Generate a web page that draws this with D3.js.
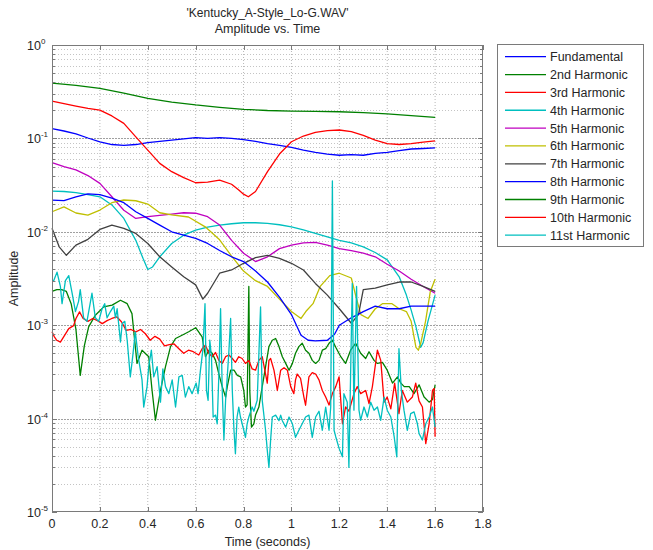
<!DOCTYPE html>
<html>
<head>
<meta charset="utf-8">
<script src="https://cdn.jsdelivr.net/npm/d3@7"></script>
<style>
  body { margin: 0; background: #fff; }
  text { font-family: "Liberation Sans", Arial, sans-serif; fill: #262626; }
</style>
</head>
<body>
<svg id="chart" width="653" height="550"></svg>
<script>
// ---- data: [time (s), amplitude] ----
const timeTicks = [0, 0.2, 0.4, 0.6, 0.8, 1, 1.2, 1.4, 1.6, 1.8];
const decadeExponents = [0, -1, -2, -3, -4, -5];
const seriesNames = ["Fundamental", "2nd Harmonic", "3rd Harmonic", "4th Harmonic", "5th Harmonic",
  "6th Harmonic", "7th Harmonic", "8th Harmonic", "9th Harmonic", "10th Harmonic", "11st Harmonic"];

const fundamental = [[0,0.127],[0.05,0.12],[0.1,0.112],[0.15,0.101],[0.2,0.092],[0.25,0.086],[0.3,0.084],[0.35,0.086],[0.4,0.09],[0.45,0.093],[0.5,0.096],[0.55,0.099],[0.6,0.102],[0.65,0.1],[0.7,0.102],[0.75,0.1],[0.8,0.097],[0.85,0.093],[0.9,0.088],[0.95,0.084],[1.0,0.08],[1.05,0.075],[1.1,0.071],[1.15,0.068],[1.2,0.066],[1.25,0.067],[1.3,0.066],[1.35,0.069],[1.4,0.071],[1.45,0.074],[1.5,0.077],[1.55,0.078],[1.6,0.079]];

const harmonic2 = [[0,0.39],[0.1,0.37],[0.2,0.343],[0.3,0.305],[0.4,0.268],[0.5,0.245],[0.6,0.228],[0.7,0.215],[0.8,0.205],[0.9,0.199],[1.0,0.196],[1.1,0.195],[1.2,0.193],[1.3,0.189],[1.4,0.183],[1.5,0.175],[1.6,0.168]];

const harmonic3 = [[0,0.251],[0.05,0.236],[0.1,0.222],[0.15,0.21],[0.2,0.201],[0.25,0.174],[0.3,0.145],[0.35,0.104],[0.4,0.075],[0.45,0.054],[0.5,0.044],[0.55,0.038],[0.6,0.0335],[0.65,0.034],[0.7,0.0358],[0.75,0.0323],[0.78,0.028],[0.8,0.0253],[0.82,0.0237],[0.85,0.027],[0.9,0.044],[0.95,0.068],[1.0,0.092],[1.05,0.106],[1.1,0.116],[1.15,0.121],[1.2,0.123],[1.25,0.118],[1.3,0.108],[1.35,0.096],[1.4,0.088],[1.45,0.086],[1.5,0.088],[1.55,0.091],[1.6,0.094]];

const harmonic4 = [[0,0.0273],[0.05,0.027],[0.1,0.0263],[0.15,0.025],[0.2,0.0237],[0.25,0.0194],[0.3,0.0139],[0.35,0.0081],[0.38,0.0052],[0.4,0.00395],[0.42,0.0042],[0.45,0.0054],[0.5,0.0075],[0.55,0.0092],[0.6,0.0104],[0.65,0.0112],[0.7,0.0118],[0.75,0.0122],[0.8,0.0125],[0.85,0.0125],[0.9,0.0123],[0.95,0.0119],[1.0,0.0113],[1.05,0.0105],[1.1,0.0096],[1.15,0.0088],[1.2,0.0081],[1.25,0.0076],[1.3,0.0069],[1.35,0.006],[1.4,0.005],[1.45,0.0033],[1.48,0.0021],[1.5,0.00145],[1.52,0.00096],[1.54,0.00058],[1.55,0.00065],[1.57,0.0011],[1.6,0.0021]];

const harmonic5 = [[0,0.055],[0.05,0.05],[0.1,0.046],[0.15,0.04],[0.2,0.033],[0.25,0.0237],[0.3,0.017],[0.35,0.0139],[0.4,0.0145],[0.45,0.015],[0.5,0.0155],[0.55,0.016],[0.6,0.0158],[0.65,0.0145],[0.7,0.0118],[0.75,0.0081],[0.8,0.0059],[0.85,0.0048],[0.9,0.0054],[0.95,0.0066],[1.0,0.0072],[1.05,0.0076],[1.1,0.0077],[1.15,0.0072],[1.2,0.0066],[1.25,0.0063],[1.3,0.0059],[1.35,0.0054],[1.4,0.0045],[1.45,0.0038],[1.5,0.0031],[1.55,0.0026],[1.6,0.0022]];

const harmonic6 = [[0,0.0164],[0.05,0.0185],[0.1,0.0159],[0.15,0.0151],[0.2,0.0171],[0.25,0.0205],[0.3,0.0219],[0.35,0.0215],[0.4,0.0198],[0.45,0.016],[0.5,0.0152],[0.57,0.0144],[0.64,0.0113],[0.7,0.0082],[0.75,0.0055],[0.8,0.0038],[0.85,0.003],[0.9,0.0026],[0.95,0.0019],[1.0,0.0014],[1.04,0.00118],[1.06,0.0014],[1.09,0.0017],[1.12,0.0026],[1.16,0.0034],[1.2,0.0036],[1.25,0.0032],[1.27,0.002],[1.29,0.0013],[1.32,0.00118],[1.35,0.0015],[1.38,0.0017],[1.42,0.0017],[1.45,0.0015],[1.48,0.0014],[1.5,0.0011],[1.52,0.00058],[1.53,0.00054],[1.54,0.00064],[1.56,0.0011],[1.58,0.0023],[1.6,0.0031]];

const harmonic7 = [[0,0.0109],[0.03,0.0069],[0.06,0.0056],[0.1,0.0072],[0.15,0.0083],[0.2,0.0106],[0.25,0.0118],[0.3,0.0109],[0.35,0.0096],[0.4,0.0075],[0.45,0.0054],[0.5,0.0042],[0.55,0.0033],[0.6,0.0027],[0.63,0.0019],[0.65,0.0022],[0.7,0.0036],[0.75,0.0039],[0.8,0.0046],[0.85,0.0053],[0.9,0.0056],[0.95,0.0052],[1.0,0.0046],[1.05,0.0039],[1.1,0.0028],[1.15,0.0021],[1.2,0.0015],[1.25,0.00105],[1.28,0.0013],[1.3,0.0024],[1.35,0.0025],[1.4,0.0027],[1.45,0.0029],[1.5,0.0029],[1.55,0.0026],[1.6,0.0023]];

const harmonic8 = [[0,0.0218],[0.05,0.0216],[0.1,0.0237],[0.15,0.0255],[0.2,0.025],[0.25,0.0229],[0.3,0.0205],[0.35,0.0164],[0.4,0.0139],[0.45,0.0118],[0.5,0.01],[0.55,0.0092],[0.6,0.0085],[0.65,0.0075],[0.7,0.0063],[0.75,0.0054],[0.8,0.0048],[0.85,0.0038],[0.9,0.0029],[0.95,0.002],[1.0,0.0013],[1.04,0.00078],[1.07,0.00069],[1.1,0.00068],[1.15,0.00069],[1.18,0.0008],[1.2,0.001],[1.25,0.0012],[1.3,0.0014],[1.35,0.0016],[1.4,0.0015],[1.45,0.0015],[1.5,0.0016],[1.55,0.0016],[1.6,0.0016]];

const harmonic9 = [[0,0.0023],[0.02,0.0024],[0.04,0.0024],[0.06,0.0023],[0.08,0.0017],[0.1,0.0009],[0.118,0.00029],[0.135,0.0006],[0.153,0.00096],[0.181,0.00128],[0.216,0.00157],[0.251,0.00164],[0.286,0.00185],[0.314,0.0017],[0.334,0.00133],[0.355,0.00039],[0.376,0.00054],[0.404,0.00046],[0.418,0.0002],[0.432,0.000096],[0.453,0.0002],[0.474,0.00036],[0.495,0.00059],[0.516,0.00072],[0.543,0.00078],[0.571,0.00085],[0.6,0.00094],[0.627,0.00075],[0.641,0.00046],[0.655,0.00054],[0.669,0.0005],[0.683,0.00042],[0.697,0.0003],[0.711,0.00022],[0.725,0.00017],[0.732,0.00022],[0.746,0.00033],[0.76,0.00033],[0.774,0.00029],[0.788,0.00028],[0.801,0.0002],[0.808,0.000133],[0.815,0.00014],[0.822,0.0026],[0.826,0.0002],[0.833,0.000081],[0.843,0.000088],[0.85,0.000109],[0.864,0.000133],[0.878,0.00022],[0.892,0.00036],[0.906,0.00059],[0.92,0.00069],[0.934,0.00072],[0.948,0.00059],[0.962,0.00046],[0.976,0.00039],[0.99,0.00033],[1.004,0.00039],[1.017,0.0005],[1.031,0.00059],[1.045,0.00064],[1.059,0.00054],[1.073,0.0005],[1.087,0.00042],[1.101,0.00039],[1.115,0.00042],[1.129,0.00054],[1.143,0.00056],[1.157,0.00064],[1.171,0.00069],[1.185,0.00058],[1.206,0.00046],[1.226,0.00039],[1.247,0.00054],[1.268,0.00064],[1.289,0.0005],[1.31,0.00044],[1.324,0.00052],[1.345,0.00042],[1.359,0.00039],[1.38,0.0004],[1.4,0.00033],[1.422,0.00024],[1.443,0.00028],[1.457,0.00024],[1.471,0.00022],[1.492,0.00022],[1.512,0.000185],[1.533,0.00023],[1.554,0.00017],[1.575,0.00015],[1.589,0.00016],[1.6,0.00023]];

const harmonic10 = [[0,0.00085],[0.01,0.00075],[0.02,0.00069],[0.035,0.00066],[0.05,0.00076],[0.07,0.00092],[0.09,0.00099],[0.1,0.00118],[0.115,0.00139],[0.13,0.00118],[0.15,0.0011],[0.17,0.00118],[0.19,0.00112],[0.21,0.00104],[0.23,0.00112],[0.25,0.00118],[0.27,0.00123],[0.29,0.00109],[0.31,0.00088],[0.33,0.0009],[0.35,0.00085],[0.37,0.0009],[0.39,0.00081],[0.41,0.00069],[0.43,0.00076],[0.45,0.00071],[0.47,0.0006],[0.49,0.00062],[0.51,0.00063],[0.53,0.00056],[0.55,0.0005],[0.57,0.00054],[0.59,0.00052],[0.613,0.00048],[0.627,0.00056],[0.641,0.00061],[0.655,0.0005],[0.669,0.00046],[0.683,0.00051],[0.697,0.00042],[0.711,0.00039],[0.725,0.00046],[0.739,0.00048],[0.753,0.00044],[0.766,0.0004],[0.78,0.00046],[0.794,0.00044],[0.808,0.00039],[0.822,0.00042],[0.836,0.00034],[0.85,0.00033],[0.864,0.00042],[0.878,0.00046],[0.892,0.0003],[0.899,0.00024],[0.906,0.00042],[0.913,0.00044],[0.927,0.00033],[0.934,0.00026],[0.941,0.0002],[0.955,0.00033],[0.969,0.00035],[0.983,0.00033],[0.997,0.00022],[1.01,0.000185],[1.017,0.00026],[1.024,0.0003],[1.038,0.00027],[1.052,0.00017],[1.059,0.000139],[1.073,0.00028],[1.087,0.00031],[1.101,0.0003],[1.115,0.00026],[1.129,0.0002],[1.143,0.00017],[1.157,0.00014],[1.171,0.000185],[1.185,0.00022],[1.199,0.00028],[1.213,0.000088],[1.226,0.000133],[1.24,0.00012],[1.261,0.000185],[1.275,0.00022],[1.289,0.000185],[1.31,0.0002],[1.324,0.000145],[1.338,0.00022],[1.359,0.00054],[1.373,0.00042],[1.387,0.00015],[1.4,0.00017],[1.415,0.000127],[1.431,0.00024],[1.449,0.000113],[1.463,0.0002],[1.484,0.00015],[1.505,0.00017],[1.519,0.00024],[1.533,0.000155],[1.547,0.000133],[1.561,0.000054],[1.575,0.000088],[1.589,0.0002],[1.596,0.00021],[1.6,0.000064]];

const harmonic11 = [[0,0.003],[0.007,0.003],[0.021,0.0037],[0.035,0.0026],[0.042,0.0017],[0.056,0.003],[0.07,0.0034],[0.084,0.0022],[0.098,0.0014],[0.111,0.0018],[0.118,0.0024],[0.132,0.0012],[0.146,0.0011],[0.167,0.0022],[0.181,0.0012],[0.195,0.0011],[0.209,0.0015],[0.22,0.0017],[0.23,0.0012],[0.244,0.0014],[0.258,0.0016],[0.265,0.0012],[0.272,0.0015],[0.286,0.00066],[0.293,0.00104],[0.304,0.0011],[0.314,0.00069],[0.327,0.00028],[0.337,0.00046],[0.348,0.00085],[0.36,0.00046],[0.376,0.00026],[0.383,0.000133],[0.397,0.00022],[0.404,0.00036],[0.415,0.00054],[0.425,0.00028],[0.439,0.00036],[0.453,0.00015],[0.463,0.00034],[0.474,0.00022],[0.488,0.000185],[0.502,0.00026],[0.516,0.000133],[0.53,0.00028],[0.544,0.00029],[0.557,0.00017],[0.571,0.00022],[0.585,0.000185],[0.602,0.00024],[0.61,0.000185],[0.62,0.00033],[0.63,0.00054],[0.639,0.0017],[0.645,0.0002],[0.652,0.000157],[0.659,0.00069],[0.666,0.00046],[0.673,0.000104],[0.683,0.000109],[0.69,0.000088],[0.697,0.0003],[0.704,0.0015],[0.711,0.0002],[0.718,0.000059],[0.725,0.000157],[0.732,0.00028],[0.739,0.00054],[0.746,0.00118],[0.753,0.0002],[0.76,0.000075],[0.766,0.000042],[0.773,0.000104],[0.78,0.000133],[0.787,0.000104],[0.801,0.000075],[0.808,0.000063],[0.815,0.000088],[0.822,0.000104],[0.836,0.000133],[0.843,0.00012],[0.857,0.000157],[0.871,0.00157],[0.878,0.000157],[0.892,0.000075],[0.899,0.000046],[0.906,0.00003],[0.913,0.000059],[0.92,0.000104],[0.934,0.000109],[0.948,0.000095],[0.955,0.000109],[0.962,0.000095],[0.976,0.000081],[0.99,0.000104],[1.004,0.000088],[1.017,0.000063],[1.031,0.000075],[1.045,0.000088],[1.059,0.000104],[1.073,0.000109],[1.087,0.000063],[1.101,0.000104],[1.115,0.00012],[1.129,0.000075],[1.143,0.000133],[1.157,0.000075],[1.164,0.000133],[1.171,0.035],[1.178,0.000075],[1.185,0.000064],[1.199,0.000048],[1.213,0.000039],[1.219,0.000185],[1.233,0.00015],[1.24,0.00003],[1.254,0.0028],[1.261,0.000123],[1.272,0.0026],[1.282,0.000123],[1.289,0.000096],[1.303,0.000133],[1.317,0.000104],[1.331,0.00015],[1.345,0.000123],[1.359,0.000133],[1.373,0.000096],[1.387,0.00017],[1.4,0.000123],[1.415,0.000104],[1.429,0.000064],[1.44,0.000039],[1.449,0.00056],[1.459,0.0002],[1.47,0.000123],[1.484,0.000075],[1.498,0.000113],[1.512,0.000118],[1.526,0.000088],[1.533,0.000069],[1.547,0.000059],[1.561,0.000088],[1.575,0.000104],[1.589,0.000133],[1.6,0.000081]];

const seriesData = [fundamental, harmonic2, harmonic3, harmonic4, harmonic5, harmonic6,
  harmonic7, harmonic8, harmonic9, harmonic10, harmonic11];

// MATLAB-style colour order, cycling after seven lines
const colorOrder = ["#0000ff", "#008000", "#ff0000", "#00bfbf", "#bf00bf", "#bfbf00", "#404040"];

// ---- layout ----
const svg = d3.select("#chart");
const plot = { left: 52, right: 483, top: 45, bottom: 512 };

const x = d3.scaleLinear().domain([0, 1.8]).range([plot.left, plot.right]);
const y = d3.scaleLog().domain([1e-5, 1]).range([plot.bottom, plot.top]);

// ---- grid ----
const grid = svg.append("g");
timeTicks.slice(1, -1).forEach(t => {
  grid.append("line")
    .attr("x1", x(t)).attr("x2", x(t))
    .attr("y1", plot.top).attr("y2", plot.bottom)
    .attr("stroke", "#b8b8b8").attr("stroke-width", 1)
    .attr("stroke-dasharray", "1,2");
});

const minorValues = [];
for (let e = -5; e < 0; e++) {
  for (let m = 2; m <= 9; m++) minorValues.push(m * Math.pow(10, e));
}
minorValues.forEach(v => {
  grid.append("line")
    .attr("x1", plot.left).attr("x2", plot.right)
    .attr("y1", Math.round(y(v)) + 0.5).attr("y2", Math.round(y(v)) + 0.5)
    .attr("stroke", "#c4c4c4").attr("stroke-width", 1)
    .attr("stroke-dasharray", "1,2");
});
decadeExponents.slice(1, -1).forEach(e => {
  const yy = Math.round(y(Math.pow(10, e))) + 0.5;
  grid.append("line")
    .attr("x1", plot.left).attr("x2", plot.right)
    .attr("y1", yy).attr("y2", yy)
    .attr("stroke", "#a0a0a0").attr("stroke-width", 1)
    .attr("stroke-dasharray", "2,1");
});

// ---- series ----
const line = d3.line()
  .x(d => x(d[0]))
  .y(d => y(d[1]));

const lines = svg.append("g").attr("fill", "none").attr("stroke-linejoin", "round");
seriesData.forEach((data, i) => {
  lines.append("path")
    .datum(data)
    .attr("d", line)
    .attr("stroke", colorOrder[i % colorOrder.length])
    .attr("stroke-width", 1.3);
});

// ---- axes frame and ticks ----
const frame = svg.append("g").attr("stroke", "#7a7a7a").attr("stroke-width", 1);
frame.append("rect")
  .attr("x", plot.left + 0.5).attr("y", plot.top + 0.5)
  .attr("width", plot.right - plot.left - 1).attr("height", plot.bottom - plot.top - 1)
  .attr("fill", "none");

timeTicks.forEach(t => {
  const xx = Math.round(x(t)) + 0.5;
  frame.append("line").attr("x1", xx).attr("x2", xx).attr("y1", plot.bottom).attr("y2", plot.bottom - 5);
  frame.append("line").attr("x1", xx).attr("x2", xx).attr("y1", plot.top).attr("y2", plot.top + 5);
});
decadeExponents.forEach(e => {
  const yy = Math.round(y(Math.pow(10, e))) + 0.5;
  frame.append("line").attr("x1", plot.left).attr("x2", plot.left + 5).attr("y1", yy).attr("y2", yy);
  frame.append("line").attr("x1", plot.right).attr("x2", plot.right - 5).attr("y1", yy).attr("y2", yy);
});
minorValues.forEach(v => {
  const yy = Math.round(y(v)) + 0.5;
  frame.append("line").attr("x1", plot.left).attr("x2", plot.left + 3).attr("y1", yy).attr("y2", yy);
  frame.append("line").attr("x1", plot.right).attr("x2", plot.right - 3).attr("y1", yy).attr("y2", yy);
});

// ---- tick labels ----
const xLabels = svg.append("g").attr("font-size", "12.5px").attr("text-anchor", "middle");
timeTicks.forEach(t => {
  xLabels.append("text")
    .attr("x", x(t)).attr("y", plot.bottom + 16)
    .text(d3.format("~g")(t));
});

const yLabels = svg.append("g").attr("font-size", "12.5px");
decadeExponents.forEach(e => {
  const yy = y(Math.pow(10, e));
  const label = yLabels.append("text")
    .attr("x", 27).attr("y", yy + 5);
  label.append("tspan").text("10");
  label.append("tspan")
    .attr("dy", -6).attr("font-size", "8px")
    .text(String(e));
});

// ---- titles ----
const cx = (plot.left + plot.right) / 2;
svg.append("text").attr("x", cx).attr("y", 17).attr("text-anchor", "middle")
  .attr("font-size", "12px").text("'Kentucky_A-Style_Lo-G.WAV'");
svg.append("text").attr("x", cx).attr("y", 33).attr("text-anchor", "middle")
  .attr("font-size", "12.5px").text("Amplitude vs. Time");
svg.append("text").attr("x", cx).attr("y", 546).attr("text-anchor", "middle")
  .attr("font-size", "12.5px").text("Time (seconds)");
svg.append("text")
  .attr("transform", `translate(18,${(plot.top + plot.bottom) / 2}) rotate(-90)`)
  .attr("text-anchor", "middle").attr("font-size", "12.5px").text("Amplitude");

// ---- legend ----
const legend = svg.append("g");
legend.append("rect")
  .attr("x", 497.5).attr("y", 44.5).attr("width", 146).attr("height", 202)
  .attr("fill", "#fff").attr("stroke", "#7a7a7a");
seriesNames.forEach((name, i) => {
  const ly = 56.7 + i * 17.85;
  legend.append("line")
    .attr("x1", 505).attr("x2", 546).attr("y1", ly).attr("y2", ly)
    .attr("stroke", colorOrder[i % colorOrder.length]).attr("stroke-width", 1.3);
  legend.append("text")
    .attr("x", 550).attr("y", ly + 4.5).attr("font-size", "12.5px")
    .text(name);
});
</script>
</body>
</html>
